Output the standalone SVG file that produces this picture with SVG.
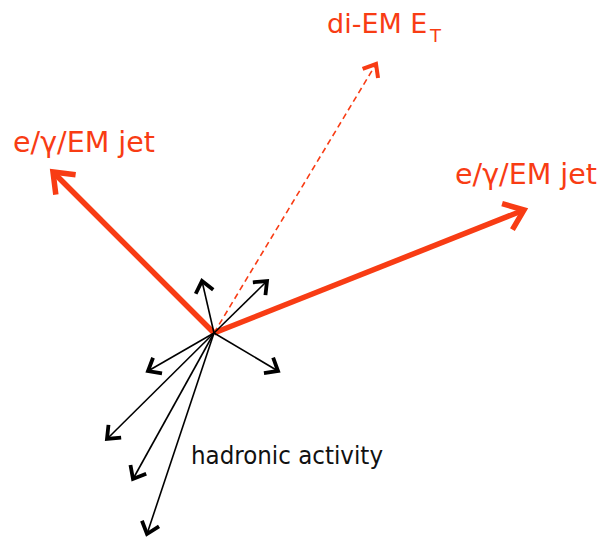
<svg xmlns="http://www.w3.org/2000/svg" width="600" height="538" viewBox="0 0 600 538">
<style>
.red{fill:none;stroke:#f83c14;stroke-width:5.5}
.dash{fill:none;stroke:#f83c14;stroke-width:1.6;stroke-dasharray:6 4}
.blk{fill:none;stroke:#000;stroke-width:1.6}
.lr{font-family:"DejaVu Sans",Verdana,sans-serif;fill:#f83c14;font-size:29px}
.lb{font-family:"DejaVu Sans",Verdana,sans-serif;fill:#111;font-size:24px}
</style>
<defs>
<marker id="hr" markerUnits="userSpaceOnUse" orient="auto" refX="0" refY="0" markerWidth="50" markerHeight="50" viewBox="-25 -25 50 50" overflow="visible">
<path d="M-18,-14 L0,0 L-18,14" fill="none" stroke="#f83c14" stroke-width="5.5"/>
</marker>
<marker id="hd" markerUnits="userSpaceOnUse" orient="auto" refX="0" refY="0" markerWidth="30" markerHeight="30" viewBox="-15 -15 30 30" overflow="visible">
<path d="M-11,-9 L0,0 L-11,9" fill="none" stroke="#f83c14" stroke-width="4"/>
</marker>
<marker id="hb" markerUnits="userSpaceOnUse" orient="auto" refX="0" refY="0" markerWidth="30" markerHeight="30" viewBox="-15 -15 30 30" overflow="visible">
<path d="M-11,-9 L0,0 L-11,9" fill="none" stroke="#000" stroke-width="3.8"/>
</marker>
</defs>
<g id="connectors">
<line class="dash" x1="214" y1="333" x2="376" y2="64" marker-end="url(#hd)"/>
<line class="red" x1="214" y1="333" x2="53" y2="172" marker-end="url(#hr)"/>
<line class="red" x1="214" y1="333" x2="524" y2="210" marker-end="url(#hr)"/>
<line class="blk" x1="214" y1="333" x2="202" y2="281" marker-end="url(#hb)"/>
<line class="blk" x1="214" y1="333" x2="267" y2="281" marker-end="url(#hb)"/>
<line class="blk" x1="214" y1="333" x2="278" y2="371" marker-end="url(#hb)"/>
<line class="blk" x1="214" y1="333" x2="148" y2="371" marker-end="url(#hb)"/>
<line class="blk" x1="214" y1="333" x2="107" y2="439" marker-end="url(#hb)"/>
<line class="blk" x1="214" y1="333" x2="133" y2="479" marker-end="url(#hb)"/>
<line class="blk" x1="214" y1="333" x2="147" y2="534" marker-end="url(#hb)"/>
</g>
<g id="label-left"><text class="lr" x="13" y="152" textLength="142" lengthAdjust="spacingAndGlyphs">e/γ/EM jet</text></g>
<g id="label-right"><text class="lr" x="455" y="184" textLength="142" lengthAdjust="spacingAndGlyphs">e/γ/EM jet</text></g>
<g id="label-diem"><text class="lr" x="327" y="33" style="font-size:27px">di-EM E<tspan x="430" y="42" style="font-size:18px">T</tspan></text></g>
<g id="label-hadronic"><text class="lb" x="191" y="464" textLength="192" lengthAdjust="spacingAndGlyphs">hadronic activity</text></g>
</svg>
